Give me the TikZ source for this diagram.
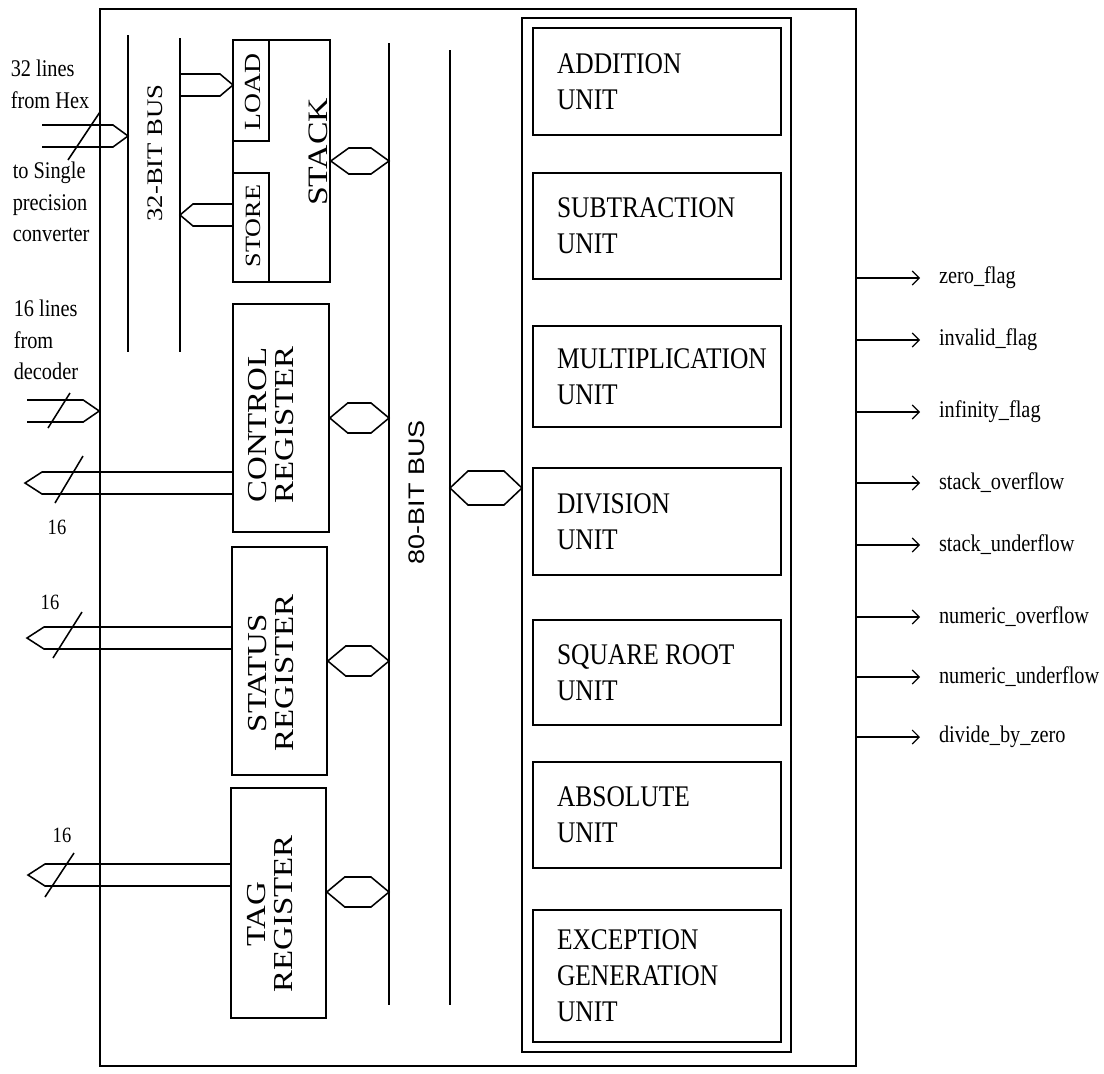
\documentclass[tikz,border=0pt]{standalone}
\usepackage{fontspec}
\setmainfont[FakeStretch=0.85]{Liberation Serif}
\newfontfamily\rotserif[FakeStretch=1.2]{Liberation Serif}
\newfontfamily\rotsans[FakeStretch=1.2]{Liberation Sans}
\usetikzlibrary{calc,fit,arrows.meta}
\begin{document}
\begin{tikzpicture}[x=0.025cm, y=-0.025cm, line width=1.1pt,
  blk/.style={draw, inner sep=0pt, fit={#1}},
  unittxt/.style={anchor=west, inner sep=0pt, align=left, font=\fontsize{21.3}{25.6}\selectfont},
  vtxt/.style={rotate=90, inner sep=0pt, align=center, font=\rotserif\fontsize{#1}{19.6}\selectfont},
  lbl/.style={anchor=north west, inner sep=0pt, align=left, font=\fontsize{17}{22.5}\selectfont},
  numlbl/.style={inner sep=0pt, font=\fontsize{15.5}{17}\selectfont},
  flaglbl/.style={anchor=west, inner xsep=13pt, inner ysep=0pt, font=\fontsize{17}{20}\selectfont},
  flagarrow/.style={-{Straight Barb[length=5pt,width=10pt]}, line width=0.8pt},
  busarrow/.style={to path={($(\tikztostart)+(0,-11)$) -- ($(\tikztotarget)+({0-(#1)},-11)$) -- (\tikztotarget) -- ($(\tikztotarget)+({0-(#1)},11)$) -- ($(\tikztostart)+(0,11)$)}},
  busarrow/.default=15,
  dbus/.style={to path={(\tikztostart) -- ($(\tikztostart)+(18,-#1)$) -- ($(\tikztotarget)+(-18,-#1)$) -- (\tikztotarget) -- ($(\tikztotarget)+(-18,#1)$) -- ($(\tikztostart)+(18,#1)$) -- cycle}},
  dbus/.default=15]
\useasboundingbox (0,0) rectangle (1104,1073);

\node[blk={(100,9) (856,1066)}] (chip) {};
\node[blk={(522,18) (791,1052)}] (alu) {};

% buses
\coordinate (b32l) at (128,35);
\coordinate (b32r) at (180,38);
\coordinate (b80l) at (389,43);
\coordinate (b80r) at (450,50);
\draw (b32l) -- ++(0,317);
\draw (b32r) -- ++(0,314);
\draw (b80l) -- ++(0,962);
\draw (b80r) -- ++(0,955);
\node[vtxt=15.8] (b32t) at (155,153) {32-BIT BUS};
\node[rotate=90, inner sep=0pt, font=\rotsans\fontsize{16}{16}\selectfont] (b80t) at (417,492) {80-BIT BUS};

% stack
\node[blk={(233,40) (330,282)}] (stack) {};
\node[blk={(233,40) (269,141)}] (load) {};
\node[blk={(233,173) (269,282)}] (store) {};
\node[vtxt=20] (stackt) at (318,152) {STACK};
\node[vtxt=16.4] (loadt) at (253,92) {LOAD};
\node[vtxt=15.5] (storet) at (253,226) {STORE};
\coordinate (loadin) at (233,85);
\coordinate (storeout) at (233,215);
\draw[busarrow=13] (b32r |- loadin) to (loadin);
\draw[busarrow=-13] (storeout) to (b32r |- storeout);
\draw[dbus=13] (stack.east) to (b80l |- stack.east);

% registers
\node[blk={(233,304) (329,532)}] (ctrl) {};
\node[blk={(232,547) (327,775)}] (status) {};
\node[blk={(231,788) (326,1018)}] (tag) {};
\node[vtxt=19.5] (ctrlt) at (271,425) {CONTROL\\REGISTER};
\node[vtxt=19.5] (statust) at (271,673) {STATUS\\REGISTER};
\node[vtxt=19.5] (tagt) at (270,914) {TAG\\REGISTER};
\draw[dbus] (ctrl.east) to (b80l |- ctrl.east);
\draw[dbus] (status.east) to (b80l |- status.east);
\coordinate (tagbus) at (389,892);
\draw[dbus] (tag.east |- tagbus) to (tagbus);

% inputs and outputs on the left
\node[lbl] (hexlbl) at (10,59) {32 lines\\from Hex};
\node[lbl] (convlbl) at (12,161) {to Single\\precision\\converter};
\node[lbl] (declbl) at (13,299) {16 lines\\from\\decoder};
\coordinate (hexsrc) at (42,136);
\draw[busarrow] (hexsrc) to (b32l |- hexsrc);
\draw (68,160) -- (100,112);
\coordinate (decsrc) at (27,411);
\draw[busarrow=16] (decsrc) to (chip.west |- decsrc);
\draw (48,428) -- (70,393);
\coordinate (cout) at (25,483);
\draw[busarrow=-17] (ctrl.west |- cout) to (cout);
\draw (55,503) -- (83,456);
\node[numlbl] (cnum) at (57,527) {16};
\coordinate (sout) at (27,638);
\draw[busarrow=-17] (status.west |- sout) to (sout);
\draw (53,658) -- (82,612);
\node[numlbl] (snum) at (50,602) {16};
\coordinate (tout) at (28,875);
\draw[busarrow=-17] (tag.west |- tout) to (tout);
\draw (45,897) -- (74,853);
\node[numlbl] (tnum) at (62,835) {16};

% arithmetic units
\foreach \nm/\ya/\yb/\txt in {add/28/135/{ADDITION\\UNIT}, sub/173/279/{SUBTRACTION\\UNIT},
    mul/326/427/{MULTIPLICATION\\UNIT}, div/468/575/{DIVISION\\UNIT},
    sqr/620/725/{SQUARE ROOT\\UNIT}, abs/762/868/{ABSOLUTE\\UNIT},
    exc/910/1042/{EXCEPTION\\GENERATION\\UNIT}} {
  \node[blk={(533,\ya) (781,\yb)}] (\nm) {};
  \node[unittxt] (t\nm) at ($(\nm.west)+(24,0)$) {\txt};
}
\coordinate (aluport) at (522,488);
\draw[dbus=17] (b80r |- aluport) to (aluport);

% flags
\foreach \nm/\yy/\txt in {zf/278/zero\_flag, invf/340/invalid\_flag, inff/412/infinity\_flag,
    sof/483/stack\_overflow, suf/545/stack\_underflow, nof/617/numeric\_overflow,
    nuf/677/numeric\_underflow, dbz/737/divide\_by\_zero} {
  \node[flaglbl] (\nm) at (920,\yy) {\txt};
  \draw[flagarrow] (chip.east |- \nm.west) -- (\nm.west);
}
\end{tikzpicture}
\end{document}
